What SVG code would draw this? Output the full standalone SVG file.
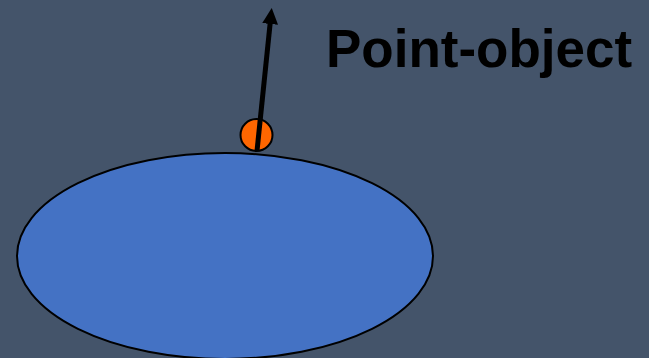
<svg xmlns="http://www.w3.org/2000/svg" width="649" height="358" viewBox="0 0 649 358">
<defs>
<style>
.shape{stroke:#000;stroke-width:2}
.lbl{font-family:"Liberation Sans",Arial,sans-serif;font-weight:bold;font-size:53px;fill:#000}
</style>
<marker id="ah" markerWidth="16" markerHeight="16" refX="4" refY="4" orient="auto" markerUnits="userSpaceOnUse" viewBox="0 0 8 8">
<path d="M0,0 L8,4 L0,8 z" fill="#000"/>
</marker>
</defs>
<rect width="649" height="358" fill="#44546a"/>
<g id="body">
<ellipse class="shape" cx="225" cy="256" rx="208" ry="103" fill="#4472c4"/>
</g>
<g id="point">
<circle class="shape" cx="256.5" cy="135" r="16" fill="#ff6600"/>
</g>
<g id="connectors">
<line x1="257" y1="151" x2="270.9" y2="16" stroke="#000" stroke-width="5" marker-end="url(#ah)"/>
</g>
<g id="label">
<text class="lbl" x="326" y="67">Point-object</text>
</g>
</svg>
